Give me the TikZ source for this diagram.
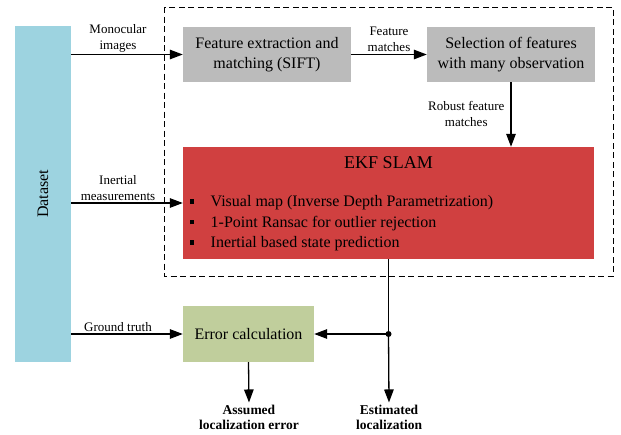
\documentclass[tikz,border=0pt]{standalone}
\usepackage{fontspec}
\setmainfont{Liberation Serif}
\usepackage{xcolor}
\usetikzlibrary{arrows.meta}
\definecolor{dataBlue}{RGB}{157,211,224}
\definecolor{boxGray}{RGB}{187,187,187}
\definecolor{slamRed}{RGB}{208,64,64}
\definecolor{errGreen}{RGB}{192,206,156}
\newcommand{\lblfont}{\fontsize{13}{16}\selectfont}
\newcommand{\boxfont}{\fontsize{16}{19.5}\selectfont}
\newcommand{\sqbullet}{\makebox[21pt][l]{\raisebox{3pt}{\rule{4.5pt}{4.5pt}}}}

\begin{document}
\begin{tikzpicture}[x=1pt,y=1pt,
  blk/.style={rectangle,inner sep=0pt,align=center,font=\boxfont},
  arr/.style={line width=1.3pt,-{Triangle[length=13pt,width=9.5pt]}},
  lbl/.style={font=\lblfont,align=center,inner sep=2pt}]
\useasboundingbox (0,0) rectangle (621,-434);

% dashed frame round the processing part
\draw  [line width=1pt, dash pattern=on 6pt off 3.5pt] (164,-7) rectangle (613,-276);

\node [blk,fill=dataBlue,minimum width=56,minimum height=336] (dataset) at (43,-194) {};
\node [font=\boxfont,rotate=90] (datasetTxt) at (dataset.center) {Dataset};
\node [blk,fill=boxGray,minimum width=168,minimum height=55] (fext) at (267,-54.5) {Feature extraction and\\matching (SIFT)};
\node [blk,fill=boxGray,minimum width=168,minimum height=55] (fsel) at (511,-54.5) {Selection of features\\with many observation};
\node [blk,fill=slamRed,minimum width=411,minimum height=112] (ekf) at (388.5,-203) {};
\node [font=\fontsize{18}{20}\selectfont] (ekfTitle) at (388.5,-163) {EKF SLAM};
\node [anchor=west,align=left,inner sep=0pt,font=\fontsize{16}{20.5}\selectfont] (ekfList) at (189.5,-223.5)
  {\sqbullet Visual map (Inverse Depth Parametrization)\\
   \sqbullet 1-Point Ransac for outlier rejection\\
   \sqbullet Inertial based state prediction};
\node [blk,fill=errGreen,minimum width=131,minimum height=56] (err) at (248.5,-334) {Error calculation};

\node [font=\bfseries\fontsize{13.5}{15.5}\selectfont,align=center] (assumed) at (249,-417.5) {Assumed\\localization error};
\node [font=\bfseries\fontsize{13.5}{15.5}\selectfont,align=center] (estim) at (389,-417.5) {Estimated\\localization};
\coordinate (jn) at (ekf.south |- err.east);

\draw  [arr] (dataset.east |- fext.west) -- node [lbl,above,xshift=-9pt] {Monocular\\images} (fext.west);
\draw  [arr] (dataset.east |- ekf.west) -- node [lbl,above,xshift=-9pt] {Inertial\\measurements} (ekf.west);
\draw  [arr] (dataset.east |- err.west) -- node [lbl,above,xshift=-9pt] {Ground truth} (err.west);
\draw  [arr] (fext.east) -- node [lbl,above] {Feature\\matches} (fsel.west);
\draw  [arr] (fsel.south) -- node [lbl,left,xshift=-4pt,yshift=1pt] {Robust feature\\matches} (fsel.south |- ekf.north);
\draw  [line width=1.3pt] (ekf.south) -- (jn);
\draw  [arr] (jn) -- (err.east);
\draw  [arr] (jn) -- ([yshift=-1pt]estim.north);
\draw  [arr] (err.south) -- ([yshift=-1pt]assumed.north);
\fill (jn) circle (3pt);
\end{tikzpicture}
\end{document}
